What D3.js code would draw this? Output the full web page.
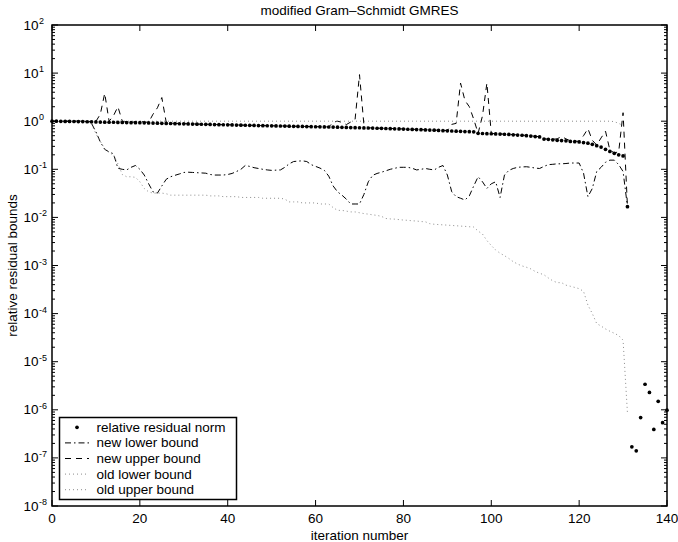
<!DOCTYPE html>
<html>
<head>
<meta charset="utf-8">
<script src="https://cdn.jsdelivr.net/npm/d3@7"></script>
<style>
  body { margin: 0; background: #fff; }
  svg { display: block; font-family: "Liberation Sans", Arial, Helvetica, sans-serif; }
</style>
</head>
<body>
<script>
// values, one per iteration (index = iteration number)
const residualNorm = [
  1.00, 1.00, 0.995, 0.99, 0.99, 0.985, 0.98, 0.98, 0.975, 0.97,
  0.965, 0.96, 0.955, 0.95, 0.95, 0.945, 0.94, 0.935, 0.93, 0.93,
  0.93, 0.925, 0.92, 0.915, 0.91, 0.905, 0.90, 0.895, 0.89, 0.885,
  0.88, 0.876, 0.872, 0.868, 0.864, 0.86, 0.856, 0.852, 0.848, 0.844,
  0.84, 0.836, 0.832, 0.828, 0.824, 0.82, 0.816, 0.812, 0.808, 0.804,
  0.80, 0.797, 0.794, 0.79, 0.787, 0.784, 0.78, 0.777, 0.774, 0.77,
  0.767, 0.764, 0.76, 0.757, 0.754, 0.75, 0.746, 0.742, 0.738, 0.734,
  0.73, 0.726, 0.722, 0.718, 0.714, 0.71, 0.705, 0.70, 0.695, 0.69,
  0.685, 0.68, 0.675, 0.67, 0.665, 0.66, 0.655, 0.65, 0.643, 0.636,
  0.63, 0.625, 0.62, 0.615, 0.61, 0.605, 0.60, 0.56, 0.555, 0.55,
  0.548, 0.545, 0.54, 0.535, 0.53, 0.52, 0.515, 0.51, 0.50, 0.49,
  0.48, 0.47, 0.425, 0.42, 0.41, 0.40, 0.395, 0.39, 0.38, 0.375,
  0.37, 0.36, 0.35, 0.33, 0.31, 0.29, 0.26, 0.235, 0.215, 0.20,
  0.19, 0.0167,
  1.7e-7, 1.4e-7, 6.9e-7, 3.4e-6, 2.3e-6, 3.9e-7, 1.5e-6, 5.4e-7, 9.8e-7
];

const newLower = [
  1.0, 1.0, 1.0, 1.0, 1.0, 1.0, 1.0, 0.99, 0.98, 0.9,
  0.6, 0.37, 0.26, 0.23, 0.21, 0.105, 0.1, 0.097, 0.11, 0.12,
  0.1, 0.076, 0.05, 0.034, 0.032, 0.045, 0.062, 0.07, 0.075, 0.08,
  0.086, 0.087, 0.086, 0.085, 0.084, 0.083, 0.078, 0.076, 0.076, 0.076,
  0.078, 0.082, 0.09, 0.1, 0.12, 0.115, 0.108, 0.104, 0.1, 0.097,
  0.095, 0.096, 0.097, 0.11, 0.13, 0.145, 0.148, 0.15, 0.145, 0.125,
  0.115, 0.106, 0.095, 0.072, 0.045, 0.034, 0.029, 0.024, 0.019, 0.019,
  0.019, 0.03, 0.055, 0.075, 0.082, 0.087, 0.093, 0.1, 0.105, 0.11,
  0.11, 0.11, 0.105, 0.097, 0.1, 0.104, 0.1, 0.097, 0.11, 0.12,
  0.076, 0.034, 0.027, 0.025, 0.023, 0.028, 0.045, 0.07, 0.055, 0.04,
  0.05, 0.055, 0.026, 0.076, 0.095, 0.104, 0.11, 0.112, 0.113, 0.11,
  0.106, 0.104, 0.115, 0.125, 0.127, 0.13, 0.13, 0.132, 0.135, 0.135,
  0.135, 0.083, 0.027, 0.04, 0.09, 0.11, 0.14, 0.155, 0.155, 0.125,
  0.09, 0.0167
];

const newUpper = [
  1.0, 1.0, 1.0, 1.0, 1.0, 1.0, 1.0, 0.99, 0.99, 0.99,
  0.99, 1.4, 3.8, 1.0, 1.3, 2.0, 1.0, 0.97, 0.96, 0.96,
  1.0, 0.96, 0.95, 1.4, 1.9, 3.1, 0.95, 0.91, 0.90, 0.90,
  0.89, 0.885, 0.88, 0.875, 0.87, 0.865, 0.86, 0.856, 0.852, 0.848,
  0.845, 0.84, 0.836, 0.832, 0.828, 0.824, 0.82, 0.816, 0.812, 0.808,
  0.805, 0.80, 0.797, 0.794, 0.79, 0.787, 0.784, 0.78, 0.777, 0.774,
  0.77, 0.767, 0.764, 0.76, 0.95, 1.0, 0.95, 0.85, 0.96, 1.1,
  9.3, 0.85, 0.73, 0.722, 0.718, 0.714, 0.71, 0.705, 0.70, 0.695,
  0.69, 0.685, 0.68, 0.675, 0.67, 0.665, 0.66, 0.655, 0.65, 0.645,
  0.64, 0.86, 0.9, 6.2, 2.7, 2.0, 1.1, 0.56, 1.3, 6.2,
  0.555, 0.55, 0.545, 0.54, 0.535, 0.525, 0.52, 0.515, 0.505, 0.495,
  0.485, 0.475, 0.43, 0.425, 0.42, 0.43, 0.48, 0.43, 0.39, 0.385,
  0.38, 0.5, 0.7, 0.4, 0.32, 0.45, 0.62, 0.25, 0.22, 0.23,
  1.5, 0.0167
];

const oldLower = [
  1.0, 1.0, 1.0, 1.0, 1.0, 1.0, 1.0, 0.99, 0.98, 0.85,
  0.55, 0.38, 0.27, 0.22, 0.2, 0.13, 0.078, 0.07, 0.07, 0.068,
  0.055, 0.04, 0.034, 0.032, 0.032, 0.032, 0.031, 0.029, 0.029, 0.029,
  0.029, 0.029, 0.029, 0.029, 0.029, 0.029, 0.028, 0.028, 0.028, 0.027,
  0.027, 0.027, 0.027, 0.026, 0.026, 0.026, 0.026, 0.026, 0.025, 0.025,
  0.025, 0.025, 0.025, 0.024, 0.021, 0.021, 0.021, 0.020, 0.020, 0.020,
  0.020, 0.019, 0.019, 0.019, 0.016, 0.014, 0.014, 0.0135, 0.013, 0.013,
  0.0125, 0.012, 0.0117, 0.0113, 0.011, 0.0105, 0.0095, 0.0093, 0.0092, 0.009,
  0.0088, 0.0087, 0.0085, 0.0084, 0.0082, 0.0081, 0.0074, 0.0072, 0.0071, 0.007,
  0.0069, 0.0068, 0.0067, 0.0066, 0.0065, 0.0064, 0.0063, 0.0052, 0.0045, 0.0033,
  0.0026, 0.0021, 0.0018, 0.0016, 0.0014, 0.0012, 0.00107, 0.00098, 0.00092, 0.00085,
  0.00075, 0.00069, 0.00064, 0.00055, 0.00048, 0.00044, 0.00044, 0.00039, 0.00037, 0.00035,
  0.00033, 0.00029, 0.00015, 0.0001, 6.2e-5, 5.5e-5, 4.8e-5, 4.3e-5, 3.9e-5, 3.5e-5,
  2.8e-5, 8.5e-7
];

const oldUpper = [
  1, 1, 1, 1, 1, 1, 1, 1, 1, 1, 1, 1, 1, 1, 1, 1, 1, 1, 1, 1,
  1, 1, 1, 1, 1, 1, 1, 1, 1, 1, 1, 1, 1, 1, 1, 1, 1, 1, 1, 1,
  1, 1, 1, 1, 1, 1, 1, 1, 1, 1, 1, 1, 1, 1, 1, 1, 1, 1, 1, 1,
  1, 1, 1, 1, 1, 1, 1, 1, 1, 1, 1, 1, 1, 1, 1, 1, 1, 1, 1, 1,
  1, 1, 1, 1, 1, 1, 1, 1, 1, 1, 1, 1, 1, 1, 1, 1, 1, 1, 1, 1,
  1, 1, 1, 1, 1, 1, 1, 1, 1, 1, 1, 1, 1, 1, 1, 1, 1, 1, 1, 1,
  1, 1, 1, 1, 1, 1, 1, 1, 0.98, 0.9,
  0.82
];

const xTicks = [0, 20, 40, 60, 80, 100, 120, 140];
const yExponents = [-8, -7, -6, -5, -4, -3, -2, -1, 0, 1, 2];
const legendLabels = ["relative residual norm", "new lower bound", "new upper bound", "old lower bound", "old upper bound"];

const W = 678, H = 542;
const L = 52, R = 667, T = 25, B = 506;
const FS = 13.5;

const x = d3.scaleLinear().domain([0, 140]).range([L, R]);
const y = d3.scaleLog().domain([1e-8, 1e2]).range([B, T]);

const svg = d3.select("body").append("svg")
  .attr("width", W).attr("height", H);

// line styles, matlab-ish
const styles = {
  dashdot: { stroke: "#000", dash: "6,3,1.5,3" },
  dashed:  { stroke: "#000", dash: "6,5" },
  dotted:  { stroke: "#8c8c8c", dash: "1,3" }
};

const line = d3.line()
  .defined(d => d != null)
  .x((d, i) => x(i))
  .y(d => y(d));

const series = [
  { vals: newLower, st: styles.dashdot },
  { vals: newUpper, st: styles.dashed },
  { vals: oldLower, st: styles.dotted },
  { vals: oldUpper, st: styles.dotted }
];

const plot = svg.append("g");

series.forEach(s => {
  plot.append("path")
    .attr("d", line(s.vals))
    .attr("fill", "none")
    .attr("stroke", s.st.stroke)
    .attr("stroke-width", 1)
    .attr("stroke-dasharray", s.st.dash);
});

plot.selectAll("circle.res")
  .data(residualNorm)
  .join("circle")
  .attr("class", "res")
  .attr("cx", (d, i) => x(i))
  .attr("cy", d => y(d))
  .attr("r", 1.85)
  .attr("fill", "#000");

// axes box
const ax = svg.append("g").attr("stroke", "#000");
ax.append("rect")
  .attr("x", L).attr("y", T).attr("width", R - L).attr("height", B - T)
  .attr("fill", "none").attr("stroke-width", 1.5);

// x ticks, inside, top and bottom
xTicks.forEach(t => {
  ax.append("line").attr("x1", x(t)).attr("x2", x(t)).attr("y1", B).attr("y2", B - 6);
  ax.append("line").attr("x1", x(t)).attr("x2", x(t)).attr("y1", T).attr("y2", T + 6);
});

// y ticks, major + minor, left and right
yExponents.forEach(e => {
  const v = Math.pow(10, e);
  ax.append("line").attr("x1", L).attr("x2", L + 6).attr("y1", y(v)).attr("y2", y(v));
  ax.append("line").attr("x1", R).attr("x2", R - 6).attr("y1", y(v)).attr("y2", y(v));
  if (e < 2) {
    for (let k = 2; k <= 9; k++) {
      const mv = k * v;
      ax.append("line").attr("x1", L).attr("x2", L + 3).attr("y1", y(mv)).attr("y2", y(mv));
      ax.append("line").attr("x1", R).attr("x2", R - 3).attr("y1", y(mv)).attr("y2", y(mv));
    }
  }
});

// tick labels
svg.selectAll("text.xt")
  .data(xTicks)
  .join("text")
  .attr("class", "xt")
  .attr("x", d => x(d))
  .attr("y", 522.5)
  .attr("text-anchor", "middle")
  .attr("font-size", FS)
  .text(d => d);

yExponents.forEach(e => {
  const yy = y(Math.pow(10, e));
  svg.append("text")
    .attr("x", 38.5).attr("y", yy + 4.5)
    .attr("text-anchor", "end")
    .attr("font-size", FS)
    .text("10");
  svg.append("text")
    .attr("x", 39).attr("y", yy - 1)
    .attr("font-size", 9)
    .text(e);
});

// titles
svg.append("text")
  .attr("x", (L + R) / 2).attr("y", 15)
  .attr("text-anchor", "middle").attr("font-size", FS)
  .text("modified Gram\u2013Schmidt GMRES");

svg.append("text")
  .attr("x", (L + R) / 2).attr("y", 539.5)
  .attr("text-anchor", "middle").attr("font-size", FS)
  .text("iteration number");

svg.append("text")
  .attr("transform", `translate(16.5,${(T + B) / 2}) rotate(-90)`)
  .attr("text-anchor", "middle").attr("font-size", FS)
  .text("relative residual bounds");

// legend
const lg = svg.append("g");
lg.append("rect")
  .attr("x", 59.5).attr("y", 417.5).attr("width", 177).attr("height", 82)
  .attr("fill", "#fff").attr("stroke", "#000").attr("stroke-width", 1.5);

const rowY = i => 427.3 + i * 15.6;
const legendStyles = [null, styles.dashdot, styles.dashed, styles.dotted, styles.dotted];

legendLabels.forEach((lab, i) => {
  const ry = rowY(i);
  const st = legendStyles[i];
  if (st) {
    lg.append("line")
      .attr("x1", 65).attr("x2", 89).attr("y1", ry).attr("y2", ry)
      .attr("stroke", st.stroke).attr("stroke-width", 1)
      .attr("stroke-dasharray", st.dash);
  } else {
    lg.append("circle").attr("cx", 77).attr("cy", ry).attr("r", 1.85).attr("fill", "#000");
  }
  lg.append("text")
    .attr("x", 96.5).attr("y", ry + 4.5)
    .attr("font-size", FS)
    .text(lab);
});
</script>
</body>
</html>
